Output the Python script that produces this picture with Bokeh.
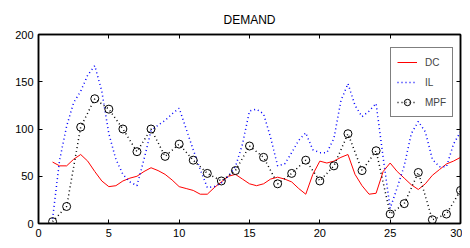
from bokeh.plotting import figure
from bokeh.models import Range1d, FixedTicker, LinearAxis, Legend, LegendItem, Title
from bokeh.embed import file_html
from bokeh.resources import INLINE

# ---- data ----
x_fine = [1.0, 1.5, 2.0, 2.5, 3.0, 3.5, 4.0, 4.5, 5.0, 5.5, 6.0, 6.5, 7.0, 7.5, 8.0, 8.5,
          9.0, 9.5, 10.0, 10.5, 11.0, 11.5, 12.0, 12.5, 13.0, 13.5, 14.0, 14.5, 15.0, 15.5,
          16.0, 16.5, 17.0, 17.5, 18.0, 18.5, 19.0, 19.5, 20.0, 20.5, 21.0, 21.5, 22.0, 22.5,
          23.0, 23.5, 24.0, 24.5, 25.0, 25.5, 26.0, 26.5, 27.0, 27.5, 28.0, 28.5, 29.0, 29.5, 30.0]
dc = [65, 61, 61, 68, 73, 66, 55, 45, 39, 40, 45, 48, 50, 55, 59, 56,
      52, 46, 39, 37, 35, 31, 31, 38, 44, 50, 52, 47, 42, 40,
      42, 47, 49, 47, 44, 37, 31, 52, 66, 64, 66, 70, 73, 52,
      40, 31, 32, 55, 64, 55, 48, 41, 36, 42, 51, 57, 63, 66, 70]
il = [5, 67, 103, 128, 140, 157, 167, 140, 95, 68, 52, 44, 40, 68, 98, 104,
      109, 116, 122, 100, 78, 57, 38, 39, 43, 50, 60, 84, 119, 121,
      116, 91, 61, 63, 75, 88, 96, 78, 75, 75, 90, 130, 148, 125,
      113, 119, 127, 70, 16, 38, 61, 95, 108, 97, 68, 60, 60, 84, 97]
x_int = list(range(1, 31))
mpf = [2, 18, 102, 132, 121, 100, 76, 100, 71, 84, 67, 53, 45, 56, 82, 70,
       42, 53, 67, 45, 61, 95, 56, 77, 10, 21, 54, 4, 10, 35]
x_ticks = [0, 5, 10, 15, 20, 25, 30]
y_ticks = [0, 50, 100, 150, 200]
labels = ["DC", "IL", "MPF"]
title_text = "DEMAND"

FONT = "Liberation Sans"

p = figure(width=462, height=240, output_backend="svg", toolbar_location=None,
           x_range=Range1d(0, 30), y_range=Range1d(0, 200),
           min_border_left=38, min_border_right=2, min_border_top=34, min_border_bottom=17)
p.title = Title(text=title_text, align="center", text_font=FONT, text_font_size="12px",
                text_font_style="normal", text_color="black", standoff=16)
p.xgrid.visible = False
p.ygrid.visible = False
p.outline_line_color = "black"
p.outline_line_width = 1.5

for ax in (p.xaxis[0], p.yaxis[0]):
    ax.major_label_text_font = FONT
    ax.major_label_text_font_size = "11px"
    ax.major_label_text_color = "black"
    ax.axis_line_color = "black"
    ax.axis_line_width = 1.5
    ax.major_tick_in = 4
    ax.major_tick_out = 0
    ax.major_tick_line_color = "black"
    ax.minor_tick_line_color = None
p.xaxis[0].major_label_standoff = 5
p.yaxis[0].major_label_standoff = 5
p.xaxis[0].ticker = FixedTicker(ticks=x_ticks)
p.yaxis[0].ticker = FixedTicker(ticks=y_ticks)

for loc in ("above", "right"):
    tks = x_ticks if loc == "above" else y_ticks
    ax = LinearAxis(ticker=FixedTicker(ticks=tks),
                    major_label_overrides={t: "" for t in tks},
                    major_tick_in=4, major_tick_out=0,
                    minor_tick_line_color=None, axis_line_color="black", axis_line_width=1.5,
                    major_label_standoff=0)
    p.add_layout(ax, loc)

r_dc = p.line(x_fine, dc, line_color="red", line_width=1)
r_il = p.line(x_fine, il, line_color="blue", line_width=1.5, line_dash="1 3")
r_mpf_l = p.line(x_int, mpf, line_color="black", line_width=1.5, line_dash="1 3")
r_mpf_m = p.scatter(x_int, mpf, marker="circle", size=8, line_color="black",
                    fill_color=None, line_width=1)

legend = Legend(items=[LegendItem(label=labels[0], renderers=[r_dc]),
                       LegendItem(label=labels[1], renderers=[r_il]),
                       LegendItem(label=labels[2], renderers=[r_mpf_l, r_mpf_m])],
                location=(352, 106), border_line_color="black", border_line_width=1.5,
                label_text_font=FONT, label_text_font_size="10px", glyph_width=20,
                glyph_height=16, spacing=4, padding=6, label_standoff=8,
                background_fill_color="white", background_fill_alpha=1.0, margin=0)
p.add_layout(legend, "center")

open("out.html", "w").write(file_html(p, INLINE))
